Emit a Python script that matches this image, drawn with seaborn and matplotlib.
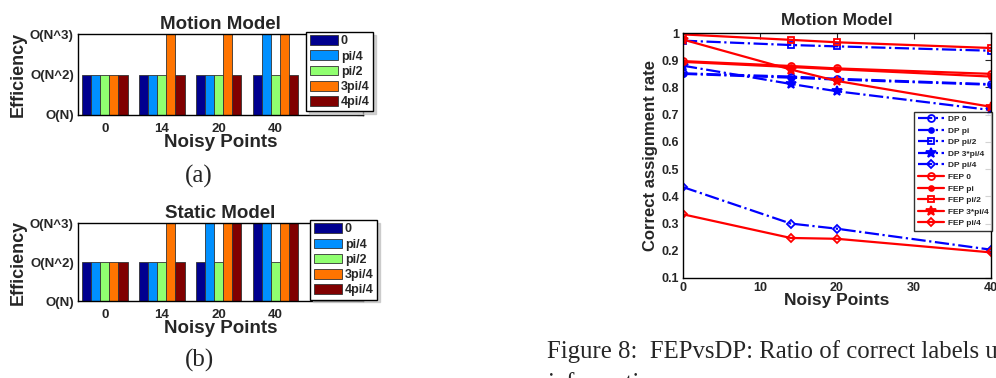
import matplotlib
matplotlib.use('Agg')
import matplotlib.pyplot as plt
import seaborn as sns
import pandas as pd
from matplotlib.ticker import FormatStrFormatter

sns.set_style('white')
plt.rcParams['font.family'] = ['Liberation Sans', 'DejaVu Sans']
plt.rcParams['font.weight'] = 'bold'
plt.rcParams['axes.labelweight'] = 'bold'
plt.rcParams['axes.titleweight'] = 'bold'

# bar charts: complexity level 0 = O(N), 1 = O(N^2), 2 = O(N^3)
noise_groups = ['0', '14', '20', '40']
angles = ['0', 'pi/4', 'pi/2', '3pi/4', '4pi/4']
eff_labels = ['O(N)', 'O(N^2)', 'O(N^3)']
bar_colors = ['#00008f', '#0090ff', '#90ff70', '#ff7400', '#800000']

motion_0 = [1, 1, 1, 1]
motion_pi4 = [1, 1, 1, 2]
motion_pi2 = [1, 1, 1, 1]
motion_3pi4 = [1, 2, 2, 2]
motion_4pi4 = [1, 1, 1, 1]

static_0 = [1, 1, 1, 2]
static_pi4 = [1, 1, 2, 2]
static_pi2 = [1, 1, 1, 1]
static_3pi4 = [1, 2, 2, 2]
static_4pi4 = [1, 1, 2, 2]

# line chart: correct assignment rate
noisy = [0, 14, 20, 40]
dp_0 = [0.852, 0.840, 0.832, 0.812]
dp_pi = [0.850, 0.836, 0.829, 0.810]
dp_pi2 = [0.972, 0.956, 0.951, 0.935]
dp_3pi4 = [0.880, 0.813, 0.786, 0.717]
dp_pi4 = [0.434, 0.300, 0.281, 0.204]
fep_0 = [0.897, 0.879, 0.870, 0.850]
fep_pi = [0.894, 0.875, 0.867, 0.840]
fep_pi2 = [0.995, 0.975, 0.966, 0.945]
fep_3pi4 = [0.976, 0.866, 0.824, 0.729]
fep_pi4 = [0.334, 0.247, 0.244, 0.194]


def to_frame(series):
    rows = []
    for ang, vals in zip(angles, series):
        for g, v in zip(noise_groups, vals):
            rows.append({'noise': g, 'angle': ang, 'eff': v})
    return pd.DataFrame(rows)


def matlab_box(ax, labelsize):
    for s in ax.spines.values():
        s.set_visible(True)
        s.set_color('black')
        s.set_linewidth(1.0)
    ax.tick_params(direction='in', top=True, right=True, length=4, width=0.8,
                   labelsize=labelsize, pad=3)


def bar_panel(ax, df, title, legend_anchor):
    sns.barplot(data=df, x='noise', y='eff', hue='angle', palette=bar_colors,
                saturation=1, width=0.8, edgecolor='#333333', linewidth=0.6,
                ax=ax, dodge=True)
    ax.set_ylim(0, 2)
    ax.set_xlim(-0.47, 4.53)
    ax.set_yticks([0, 1, 2])
    ax.set_yticklabels(eff_labels)
    matlab_box(ax, 9.5)
    ax.tick_params(axis='x', length=0, pad=6)
    ax.set_title(title, fontsize=13.5, pad=4)
    ax.set_xlabel('Noisy Points', fontsize=13.5, labelpad=-1)
    ax.set_ylabel('Efficiency', fontsize=13, labelpad=2)
    leg = ax.legend(loc='upper right', bbox_to_anchor=legend_anchor, fontsize=9,
                    frameon=True, fancybox=False, edgecolor='black',
                    shadow={'ox': 2, 'oy': -2, 'color': '0.75', 'alpha': 0.7},
                    handlelength=2.3, handleheight=0.8, labelspacing=0.25,
                    borderpad=0.25, handletextpad=0.2, borderaxespad=0)
    leg.get_frame().set_linewidth(1.0)


fig = plt.figure(figsize=(9.96, 3.78), dpi=100)

ax1 = fig.add_axes([0.0783, 0.6958, 0.286, 0.214])
bar_panel(ax1, to_frame([motion_0, motion_pi4, motion_pi2, motion_3pi4, motion_4pi4]),
          'Motion Model', (1.035, 1.025))

ax2 = fig.add_axes([0.0783, 0.2037, 0.286, 0.206])
bar_panel(ax2, to_frame([static_0, static_pi4, static_pi2, static_3pi4, static_4pi4]),
          'Static Model', (1.049, 1.038))

fig.text(0.2, 1 - 176 / 378, '(a)', family='Liberation Serif', fontsize=18,
         weight='normal', ha='center', va='center')
fig.text(0.2, 1 - 360 / 378, '(b)', family='Liberation Serif', fontsize=18,
         weight='normal', ha='center', va='center')

# right panel
ax3 = fig.add_axes([0.6857, 0.2646, 0.3092, 0.648])
line_series = [
    ('DP 0', dp_0, 'blue', '-.', 'o', 'none'),
    ('DP pi', dp_pi, 'blue', '-.', '.', 'blue'),
    ('DP pi/2', dp_pi2, 'blue', '-.', 's', 'none'),
    ('DP 3*pi/4', dp_3pi4, 'blue', '-.', '*', 'blue'),
    ('DP pi/4', dp_pi4, 'blue', '-.', 'D', 'none'),
    ('FEP 0', fep_0, 'red', '-', 'o', 'none'),
    ('FEP pi', fep_pi, 'red', '-', '.', 'red'),
    ('FEP pi/2', fep_pi2, 'red', '-', 's', 'none'),
    ('FEP 3*pi/4', fep_3pi4, 'red', '-', '*', 'red'),
    ('FEP pi/4', fep_pi4, 'red', '-', 'D', 'none'),
]
for name, vals, col, ls, mk, mfc in line_series:
    ms = 7 if mk in ('*', '.') else 5
    if mk == 'D':
        ms = 4.5
    sns.lineplot(x=noisy, y=vals, ax=ax3, color=col, linestyle=ls, linewidth=1.6,
                 marker=mk, markersize=ms, markerfacecolor=mfc, markeredgecolor=col,
                 markeredgewidth=1.3, label=name)

ax3.set_xlim(0, 40)
ax3.set_ylim(0.1, 1.0)
ax3.set_xticks([0, 10, 20, 30, 40])
ax3.set_yticks([0.1, 0.2, 0.3, 0.4, 0.5, 0.6, 0.7, 0.8, 0.9, 1.0])
ax3.yaxis.set_major_formatter(FormatStrFormatter('%g'))
matlab_box(ax3, 9)
ax3.set_title('Motion Model', fontsize=12.5, pad=6)
ax3.set_xlabel('Noisy Points', fontsize=12.5, labelpad=-1)
ax3.set_ylabel('Correct assignment rate', fontsize=12, labelpad=2)
leg3 = ax3.legend(loc='upper right', bbox_to_anchor=(1.005, 0.678), fontsize=6,
                  frameon=True, fancybox=False, edgecolor='black',
                  handlelength=3.2, labelspacing=0.45, borderpad=0.4,
                  handletextpad=0.5, borderaxespad=0)
leg3.get_frame().set_linewidth(1.0)

fig.text(547 / 996, 1 - 352 / 378, 'Figure 8:  FEPvsDP: Ratio of correct labels u',
         family='Liberation Serif', fontsize=17.8, weight='normal',
         ha='left', va='center')
fig.text(547 / 996, 1 - 384 / 378, 'information',
         family='Liberation Serif', fontsize=17.8, weight='normal',
         ha='left', va='center')

fig.savefig('out.png', dpi=100)
